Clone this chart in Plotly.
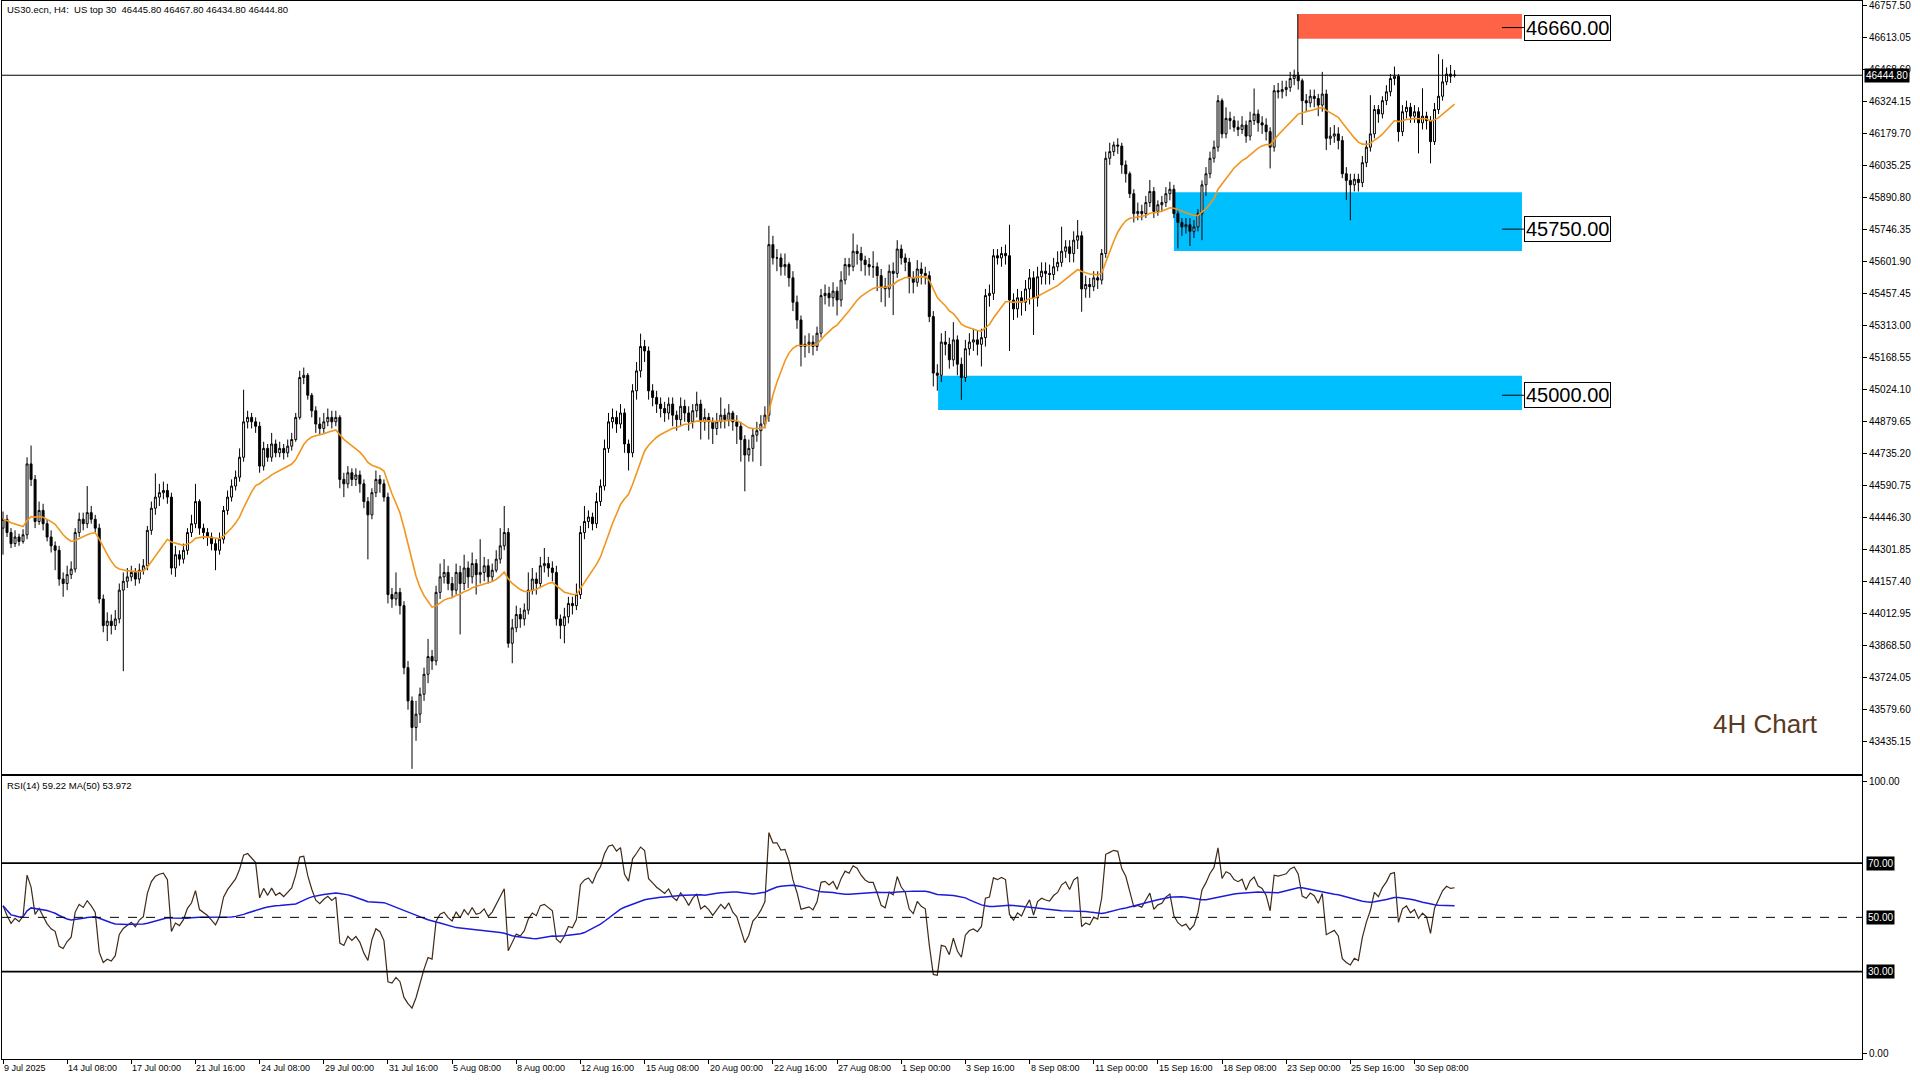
import numpy as np
import pandas as pd
import plotly.graph_objects as go

# ---------------- data ----------------
close = [
    44440,44380,44330,44360,44340,44370,44690,44620,44430,44480,
    44420,44360,44320,44300,44170,44150,44190,44215,44380,44440,
    44420,44470,44440,44400,44080,43960,43980,43960,43990,44120,
    44160,44180,44200,44170,44210,44230,44390,44490,44540,44560,
    44570,44540,44220,44280,44260,44300,44380,44420,44520,44400,
    44380,44360,44330,44300,44350,44480,44540,44590,44630,44720,
    44880,44900,44880,44860,44680,44760,44720,44780,44740,44760,
    44740,44770,44800,44900,45080,45090,45000,44930,44870,44850,
    44880,44900,44880,44900,44620,44600,44650,44620,44640,44600,
    44520,44460,44560,44620,44600,44540,44100,44080,44110,44050,
    43770,43620,43500,43560,43650,43740,43820,43800,44110,44180,
    44200,44150,44120,44200,44150,44220,44180,44240,44190,44200,
    44230,44180,44210,44260,44320,44380,43880,43950,44010,43990,
    44030,44120,44170,44150,44230,44240,44220,44200,43990,43960,
    44000,44060,44050,44100,44380,44430,44450,44420,44520,44590,
    44760,44880,44900,44870,44920,44780,44740,45020,45110,45220,
    45200,45020,44990,44960,44940,44920,44960,44910,44890,44950,
    44920,44880,44930,44960,44880,44900,44880,44850,44880,44910,
    44890,44920,44880,44860,44800,44730,44760,44820,44840,44870,
    44910,45680,45620,45620,45580,45590,45530,45420,45340,45220,
    45230,45240,45220,45280,45450,45460,45440,45470,45430,45520,
    45590,45580,45650,45640,45610,45590,45580,45580,45540,45490,
    45480,45560,45550,45660,45620,45600,45530,45510,45570,45550,
    45540,45355,45100,45090,45240,45230,45160,45250,45140,45080,
    45210,45240,45250,45230,45260,45450,45460,45630,45620,45640,
    45630,45430,45390,45440,45420,45480,45530,45440,45535,45560,
    45550,45545,45580,45600,45650,45670,45640,45700,45720,45480,
    45500,45490,45530,45520,45640,46070,46100,46130,46125,46040,
    46000,45910,45820,45830,45820,45870,45920,45830,45860,45870,
    45910,45930,45820,45780,45760,45770,45740,45760,45820,45950,
    46000,46070,46120,46330,46180,46250,46240,46210,46200,46220,
    46170,46240,46270,46230,46220,46190,46120,46375,46370,46380,
    46390,46430,46445,46420,46330,46320,46350,46340,46310,46360,
    46160,46170,46180,46150,46000,45970,45950,45975,45960,46050,
    46120,46180,46290,46270,46330,46370,46430,46440,46190,46280,
    46300,46260,46280,46230,46260,46240,46145,46290,46350,46415,46450,46440,46444.8,
]
high = [
    44475,44460,44400,44390,44375,44395,44720,44773,44640,44520,
    44510,44440,44390,44340,44320,44200,44230,44250,44400,44470,
    44470,44590,44500,44460,44420,44100,44020,44010,44030,44150,
    44200,44220,44230,44220,44240,44260,44410,44520,44647,44600,
    44610,44600,44560,44320,44300,44330,44400,44460,44600,44530,
    44420,44400,44380,44350,44380,44500,44570,44620,44660,44760,
    45025,44930,44920,44900,44880,44790,44780,44830,44800,44790,
    44780,44800,44830,44920,45110,45125,45100,45010,44950,44900,
    44920,44940,44930,44930,44910,44650,44680,44670,44670,44660,
    44620,44540,44580,44660,44640,44620,44560,44130,44200,44130,
    44070,43800,43640,43620,43680,43770,43900,43850,44140,44240,
    44260,44230,44180,44240,44230,44280,44250,44290,44260,44350,
    44270,44260,44240,44300,44400,44500,44400,43990,44050,44040,
    44060,44200,44220,44200,44270,44310,44270,44250,44230,44010,
    44040,44090,44090,44150,44410,44500,44480,44470,44560,44620,
    44800,44920,44940,44930,44960,44940,44800,45050,45150,45278,
    45250,45220,45050,45020,44990,44970,44990,44990,44930,44990,
    44980,44950,44960,45016,44980,44940,44920,44900,44920,44990,
    44940,44960,44930,44910,44880,44820,44800,44850,44880,44910,
    44950,45765,45720,45660,45640,45640,45600,45560,45450,45360,
    45270,45280,45270,45310,45480,45500,45490,45510,45490,45560,
    45620,45620,45730,45680,45670,45630,45620,45650,45600,45570,
    45530,45590,45600,45700,45680,45640,45620,45560,45610,45600,
    45580,45560,45380,45140,45280,45290,45260,45330,45270,45170,
    45250,45280,45300,45290,45300,45480,45500,45660,45660,45670,
    45680,45770,45460,45480,45470,45520,45570,45560,45580,45600,
    45600,45590,45620,45650,45761,45700,45700,45740,45791,45740,
    45540,45530,45560,45560,45660,46100,46140,46145,46160,46140,
    46060,46010,45930,45870,45860,45900,45972,45940,45880,45900,
    45940,45964,45950,45840,45800,45800,45800,45790,45840,45970,
    46030,46100,46150,46355,46340,46300,46280,46260,46240,46260,
    46240,46280,46385,46290,46260,46250,46210,46400,46410,46420,
    46420,46460,46470,46460,46430,46360,46380,46380,46360,46460,
    46380,46210,46220,46210,46170,46030,46000,46000,46000,46080,
    46150,46355,46310,46310,46350,46400,46450,46484,46450,46310,
    46330,46320,46310,46300,46386,46280,46260,46320,46540,46517,46480,46491,46467.8,
]
low = [
    44280,44360,44310,44315,44320,44330,44350,44590,44400,44415,
    44390,44340,44290,44210,44140,44090,44120,44170,44200,44360,
    44390,44400,44420,44380,44060,43930,43890,43920,43940,43970,
    43754,44130,44160,44140,44150,44190,44210,44370,44460,44500,
    44530,44510,44190,44180,44230,44240,44280,44360,44400,44370,
    44350,44320,44300,44210,44280,44330,44460,44520,44570,44610,
    44700,44850,44850,44830,44650,44660,44700,44700,44720,44720,
    44710,44720,44750,44790,44890,45050,44980,44900,44830,44820,
    44830,44860,44850,44860,44580,44540,44580,44590,44590,44560,
    44490,44259,44440,44540,44560,44520,44060,44040,44050,44010,
    43740,43580,43313,43440,43520,43620,43700,43760,43780,44080,
    44150,44120,44090,44100,43920,44120,44130,44150,44100,44150,
    44160,44150,44160,44200,44240,44300,43860,43790,43930,43950,
    43960,44010,44100,44100,44130,44200,44180,44160,43960,43900,
    43880,43970,44010,44030,44080,44350,44400,44390,44400,44500,
    44570,44740,44850,44830,44850,44740,44660,44720,44980,45080,
    45150,44980,44950,44920,44900,44880,44890,44860,44840,44860,
    44880,44840,44850,44900,44800,44840,44800,44780,44820,44850,
    44850,44860,44840,44780,44700,44566,44700,44700,44790,44680,
    44850,44880,45590,45560,45540,45540,45490,45380,45300,45130,
    45170,45190,45180,45200,45260,45410,45400,45400,45360,45400,
    45500,45540,45560,45590,45560,45540,45540,45530,45470,45420,
    45400,45440,45362,45530,45590,45560,45460,45460,45490,45500,
    45500,45330,45040,45020,45060,45180,45120,45130,45090,44979,
    45060,45180,45200,45180,45130,45220,45400,45430,45590,45580,
    45590,45200,45340,45350,45360,45380,45410,45272,45400,45500,
    45500,45500,45520,45560,45580,45620,45600,45600,45660,45377,
    45440,45440,45470,45480,45500,45620,46040,46080,46090,46000,
    45960,45890,45780,45790,45790,45800,45850,45800,45810,45830,
    45850,45880,45800,45663,45720,45730,45674,45710,45740,45700,
    45900,45980,46050,46100,46160,46160,46200,46190,46170,46180,
    46140,46150,46220,46190,46180,46150,46024,46100,46340,46340,
    46350,46370,46400,46380,46220,46280,46300,46300,46260,46280,
    46107,46130,46140,46110,45980,45881,45790,45920,45920,45940,
    46030,46100,46160,46230,46250,46310,46350,46400,46145,46170,
    46250,46230,46230,46092,46200,46200,46047,46130,46270,46330,46400,46410,46434.8,
]
first_open = 44400
last_bar = {"open": 46445.80, "high": 46467.80, "low": 46434.80, "close": 46444.80}

x_labels = ["9 Jul 2025", "14 Jul 08:00", "17 Jul 00:00", "21 Jul 16:00", "24 Jul 08:00",
            "29 Jul 00:00", "31 Jul 16:00", "5 Aug 08:00", "8 Aug 00:00", "12 Aug 16:00",
            "15 Aug 08:00", "20 Aug 00:00", "22 Aug 16:00", "27 Aug 08:00", "1 Sep 00:00",
            "3 Sep 16:00", "8 Sep 08:00", "11 Sep 00:00", "15 Sep 16:00", "18 Sep 08:00",
            "23 Sep 00:00", "25 Sep 16:00", "30 Sep 08:00"]
bars_per_label = 16

price_ticks = [46757.50 - 144.45 * k for k in range(24)]

zone_names = ["resistance", "support_1", "support_2"]
zone_low = [46610, 45651, 44933]
zone_high = [46721, 45917, 45088]
zone_level = [46660.00, 45750.00, 45000.00]
zone_start_bar = [322.9, 292.0, 233.2]
zone_colors = ["#FF6347", "#00BFFF", "#00BFFF"]

rsi_period = 14
rsi_ma_period = 50
price_ma_period = 20
rsi_levels = [70, 50, 30]

# ---------------- derived ----------------
n = len(close)
idx = np.arange(n)
o = [first_open] + close[:-1]
o[-1] = last_bar["open"]
h = [max(a, b, c) for a, b, c in zip(high, o, close)]
l = [min(a, b, c) for a, b, c in zip(low, o, close)]
h[-1] = last_bar["high"]; l[-1] = last_bar["low"]

cs = pd.Series(close, dtype=float)
price_ma = cs.ewm(span=price_ma_period, adjust=False).mean()

d = cs.diff().fillna(0.0).values
gain = np.where(d > 0, d, 0.0)
loss = np.where(d < 0, -d, 0.0)
ag = np.zeros(n); al = np.zeros(n)
ag[0] = gain[1:].mean(); al[0] = loss[1:].mean()
for i in range(1, n):
    ag[i] = (ag[i - 1] * (rsi_period - 1) + gain[i]) / rsi_period
    al[i] = (al[i - 1] * (rsi_period - 1) + loss[i]) / rsi_period
rsi = 100 - 100 / (1 + ag / np.maximum(al, 1e-9))
rsi_ma = pd.Series(rsi).rolling(rsi_ma_period, min_periods=1).mean()

# ---------------- figure ----------------
W, H = 1920, 1080
X_RANGE = [-0.25, 463.6]
ZONE_END = 378.8
LABEL_X = 379.3
LEAD_X0 = 373.8

fig = go.Figure()

for zl, zh, zs, zc in zip(zone_low, zone_high, zone_start_bar, zone_colors):
    fig.add_shape(type="rect", x0=zs, x1=ZONE_END, y0=zl, y1=zh, xref="x", yref="y",
                  fillcolor=zc, line=dict(width=0), layer="below")

fig.add_trace(go.Candlestick(
    x=idx, open=o, high=h, low=l, close=close,
    increasing=dict(line=dict(color="black", width=1), fillcolor="white"),
    decreasing=dict(line=dict(color="black", width=1), fillcolor="black"),
    whiskerwidth=0, xaxis="x", yaxis="y", showlegend=False, hoverinfo="skip"))

fig.add_trace(go.Scatter(x=idx, y=price_ma, mode="lines", line=dict(color="#F0961E", width=1.6),
                         xaxis="x", yaxis="y", showlegend=False, hoverinfo="skip"))

fig.add_trace(go.Scatter(x=idx, y=rsi, mode="lines", line=dict(color="#3f2a18", width=1.2),
                         xaxis="x2", yaxis="y2", showlegend=False, hoverinfo="skip"))
fig.add_trace(go.Scatter(x=idx, y=rsi_ma, mode="lines", line=dict(color="#1c1cd8", width=1.5),
                         xaxis="x2", yaxis="y2", showlegend=False, hoverinfo="skip"))

# current price line
fig.add_shape(type="line", xref="paper", x0=0, x1=1, yref="y", y0=last_bar["close"], y1=last_bar["close"],
              line=dict(color="black", width=1))
# vertical edge of resistance zone
fig.add_shape(type="line", xref="x", x0=zone_start_bar[0], x1=zone_start_bar[0], yref="y",
              y0=last_bar["close"], y1=zone_high[0], line=dict(color="black", width=1))

# RSI levels
for lv in rsi_levels:
    fig.add_shape(type="line", xref="paper", x0=0, x1=1, yref="y2", y0=lv, y1=lv,
                  line=dict(color="black", width=1 if lv == 50 else 1.6,
                            dash="dash" if lv == 50 else "solid"))

annotations = []
for lvl in zone_level:
    fig.add_shape(type="line", xref="x", x0=LEAD_X0, x1=LABEL_X, yref="y", y0=lvl, y1=lvl,
                  line=dict(color="black", width=1))
    annotations.append(dict(x=LABEL_X, y=lvl, xref="x", yref="y", text=f"{lvl:.2f}",
                            showarrow=False, xanchor="left", yanchor="middle",
                            font=dict(family="Liberation Sans, Arial", size=20, color="black"),
                            bgcolor="white", bordercolor="black", borderwidth=1, borderpad=1))

annotations.append(dict(x=1, y=last_bar["close"], xref="paper", yref="y",
                        text=f"{last_bar['close']:.2f}", showarrow=False, xanchor="left",
                        yanchor="middle", xshift=2, bgcolor="black",
                        font=dict(family="Liberation Sans, Arial", size=10, color="white"), borderpad=1))
for lv in rsi_levels:
    annotations.append(dict(x=1, y=lv, xref="paper", yref="y2", text=f"{lv:.2f}", showarrow=False,
                            xanchor="left", yanchor="middle", xshift=4, bgcolor="black",
                            font=dict(family="Liberation Sans, Arial", size=10, color="white"),
                            borderpad=1))

for j, lab in enumerate(x_labels):
    annotations.append(dict(x=j * bars_per_label, y=0, xref="x2", yref="paper", text=lab,
                            showarrow=False, xanchor="left", yanchor="top", yshift=-2, xshift=-1,
                            font=dict(family="Liberation Sans, Arial", size=9, color="black")))

nb = "\u00a0"
header = f"US30.ecn, H4:{nb}{nb}US top 30{nb}{nb}{last_bar['open']:.2f} {last_bar['high']:.2f} {last_bar['low']:.2f} {last_bar['close']:.2f}"
annotations.append(dict(x=0, y=1, xref="paper", yref="paper", text=header, showarrow=False,
                        xanchor="left", yanchor="top", xshift=3, yshift=-1,
                        font=dict(family="Liberation Sans, Arial", size=9.5, color="black")))
annotations.append(dict(x=0, y=0.2675, xref="paper", yref="paper",
                        text=f"RSI({rsi_period}) 59.22 MA({rsi_ma_period}) 53.972", showarrow=False,
                        xanchor="left", yanchor="top", xshift=3, yshift=-2,
                        font=dict(family="Liberation Sans, Arial", size=9.5, color="black")))
annotations.append(dict(x=0.948, y=43516, xref="paper", yref="y", text="4H Chart", showarrow=False,
                        xanchor="center", yanchor="middle",
                        font=dict(family="Liberation Sans, Arial", size=26, color="#5a3a1e")))

axis_common = dict(showline=True, mirror=True, linecolor="black", linewidth=1,
                   showgrid=False, zeroline=False)

fig.update_layout(
    width=W, height=H, margin=dict(l=2, r=58, t=1, b=21),
    paper_bgcolor="white", plot_bgcolor="white", showlegend=False,
    xaxis=dict(domain=[0, 1], range=X_RANGE, anchor="y", showticklabels=False, ticks="",
               rangeslider=dict(visible=False), **axis_common),
    xaxis2=dict(domain=[0, 1], range=X_RANGE, anchor="y2", matches="x", showticklabels=False,
                ticks="outside", ticklen=4, tickcolor="black",
                tickvals=[j * bars_per_label for j in range(len(x_labels))], **axis_common),
    yaxis=dict(domain=[0.2694, 1], range=[43290, 46780], side="right", anchor="x",
               tickvals=price_ticks, ticktext=[f"{v:.2f}" for v in price_ticks],
               ticks="outside", ticklen=4, tickcolor="black",
               tickfont=dict(family="Liberation Sans, Arial", size=10, color="black"), **axis_common),
    yaxis2=dict(domain=[0, 0.2675], range=[-2.2, 102.1], side="right", anchor="x2",
                tickvals=[0, 100], ticktext=["0.00", "100.00"],
                ticks="outside", ticklen=4, tickcolor="black",
                tickfont=dict(family="Liberation Sans, Arial", size=10, color="black"), **axis_common),
    annotations=annotations,
)

fig.write_html("out.html", config={"displayModeBar": False},
               post_script="document.body.style.margin='0';document.body.style.padding='0';"
                           "document.documentElement.style.overflow='hidden';")
